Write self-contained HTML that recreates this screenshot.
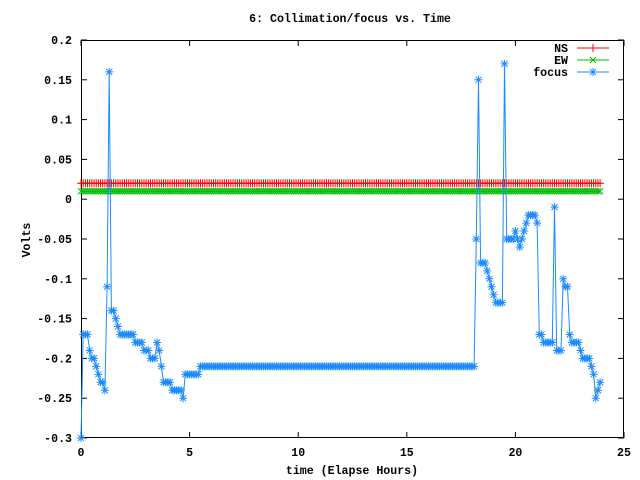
<!DOCTYPE html>
<html><head><meta charset="utf-8"><style>
html,body{margin:0;padding:0;background:#fff}
svg{display:block}
text{font-family:"Liberation Mono",monospace;font-size:11.6px;fill:#000}
</style></head><body>
<svg id="chart" width="640" height="480" viewBox="0 0 640 480">
<rect x="0" y="0" width="640" height="480" fill="#fff"/>
<text x="350" y="22" text-anchor="middle" font-weight="bold">6: Collimation/focus vs. Time</text>
<text x="352" y="474" text-anchor="middle" font-weight="bold">time (Elapse Hours)</text>
<text x="30" y="240" text-anchor="middle" font-weight="bold" transform="rotate(-90 30 240)">Volts</text>
<g id="axes"></g>
<g id="series"></g>
<g id="legend"></g>
</svg>
<script>
const xTicks = [0, 5, 10, 15, 20, 25];
const yTicks = [0.2, 0.15, 0.1, 0.05, 0, -0.05, -0.1, -0.15, -0.2, -0.25, -0.3];
const yTickLabels = ["0.2","0.15","0.1","0.05","0","-0.05","-0.1","-0.15","-0.2","-0.25","-0.3"];
const sampleStep = 0.1;
const sampleCount = 240;
const nsValue = 0.02;
const ewValue = 0.01;
const focusValues = [-0.30,-0.17,-0.17,-0.17,-0.19,-0.20,-0.20,-0.21,-0.22,-0.23,-0.23,-0.24,-0.11,0.16,-0.14,-0.14,-0.15,-0.16,
-0.17,-0.17,-0.17,-0.17,-0.17,-0.17,-0.17,-0.18,-0.18,-0.18,-0.18,-0.19,-0.19,-0.19,-0.20,-0.20,-0.20,-0.18,-0.19,-0.21,
-0.23,-0.23,-0.23,-0.23,-0.24,-0.24,-0.24,-0.24,-0.24,-0.25,-0.22,-0.22,-0.22,-0.22,-0.22,-0.22,-0.22];
const focusFlatValue = -0.21;
const focusFlatCount = 127;
const focusTail = [-0.05,0.15,-0.08,-0.08,-0.08,-0.09,-0.10,-0.11,-0.12,-0.13,-0.13,-0.13,-0.13,0.17,-0.05,-0.05,-0.05,-0.05,
-0.04,-0.05,-0.06,-0.05,-0.04,-0.03,-0.02,-0.02,-0.02,-0.02,-0.03,-0.17,-0.17,-0.18,-0.18,-0.18,-0.18,-0.18,-0.01,
-0.19,-0.19,-0.19,-0.10,-0.11,-0.11,-0.17,-0.18,-0.18,-0.18,-0.18,-0.19,-0.20,-0.20,-0.20,-0.20,-0.21,-0.22,-0.25,-0.24,-0.23];

const L=81,R=624,T=40,B=438;
const xMin=0,xMax=25,yMin=-0.3,yMax=0.2;
const sx=v=>L+(v-xMin)/(xMax-xMin)*(R-L);
const sy=v=>B-(v-yMin)/(yMax-yMin)*(B-T);
const NS="http://www.w3.org/2000/svg";
function mk(tag,attrs,parent){const e=document.createElementNS(NS,tag);for(const k in attrs)e.setAttribute(k,attrs[k]);parent.appendChild(e);return e;}

const axes=document.getElementById('axes');
xTicks.forEach((t,i)=>{
  const x=sx(t);
  const a=mk('line',{x1:x,y1:B,x2:x,y2:B-6,stroke:'#000'},axes);
  
  
  const b=mk('line',{x1:x,y1:T,x2:x,y2:T+6,stroke:'#000'},axes);
  
  
  const tx=mk('text',{x:x,y:456,'text-anchor':'middle','font-weight':'bold'},axes);
  tx.textContent=String(t);
  
  
});
yTicks.forEach((v,i)=>{
  const y=sy(v);
  const a=mk('line',{x1:L,y1:y,x2:L+6,y2:y,stroke:'#000'},axes);
  
  
  const b=mk('line',{x1:R,y1:y,x2:R-6,y2:y,stroke:'#000'},axes);
  
  
  const tx=mk('text',{x:72,y:y+4,'text-anchor':'end','font-weight':'bold'},axes);
  tx.textContent=yTickLabels[i];
  
  
});
const frame=mk('rect',{x:L+0.5,y:T+0.5,width:R-L-1,height:B-T-1,fill:'none',stroke:'#000'},axes);



const times=[];for(let i=0;i<sampleCount;i++)times.push(i*sampleStep);
const nsSeries=times.map(()=>nsValue);
const ewSeries=times.map(()=>ewValue);
const focusSeries=focusValues.concat(Array(focusFlatCount).fill(focusFlatValue),focusTail);

function plus(x,y,c,g){mk('path',{d:`M${x-4},${y}h8M${x},${y-4}v8`,stroke:c,fill:'none'},g);}
function cross(x,y,c,g){mk('path',{d:`M${x-3},${y-3}l6,6M${x-3},${y+3}l6,-6`,stroke:c,fill:'none'},g);}
function star(x,y,c,g){mk('path',{d:`M${x-4},${y}h8M${x},${y-4}v8M${x-3},${y-3}l6,6M${x-3},${y+3}l6,-6`,stroke:c,fill:'none'},g);}

const series=document.getElementById('series');
const defs=[
 {name:'ns',vals:nsSeries,c:'#ff0000',m:plus},
 {name:'ew',vals:ewSeries,c:'#00c000',m:cross},
 {name:'focus',vals:focusSeries,c:'#1a8cff',m:star}];
defs.forEach(d=>{
  const g=mk('g',{},series);
  
  
  const n=Math.min(times.length,d.vals.length);
  let p='';for(let i=0;i<n;i++)p+=(i?'L':'M')+sx(times[i]).toFixed(1)+','+sy(d.vals[i]).toFixed(1);
  const ln=mk('path',{d:p,stroke:d.c,fill:'none','stroke-width':1},g);
  
  
  for(let i=0;i<n;i++)d.m(sx(times[i]),sy(d.vals[i]),d.c,g);
});

const leg=document.getElementById('legend');
const legendLabels=['NS','EW','focus'];
legendLabels.forEach((lab,i)=>{
  const y=48+i*12;
  const g=mk('g',{},leg);
  
  
  const t=mk('text',{x:568,y:y+4,'text-anchor':'end','font-weight':'bold'},g);
  t.textContent=lab;
  mk('line',{x1:577,y1:y,x2:609,y2:y,stroke:defs[i].c},g);
  defs[i].m(593,y,defs[i].c,g);
});
</script>
</body></html>
